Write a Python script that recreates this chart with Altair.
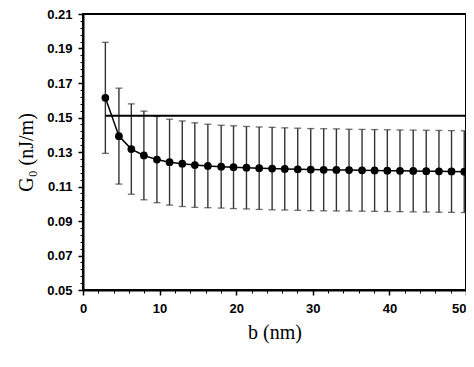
import altair as alt
import pandas as pd

# ---- data ----
b_nm = [2.92, 4.69, 6.31, 7.95, 9.65, 11.30, 12.96, 14.60, 16.30, 18.04,
        19.65, 21.34, 23.00, 24.69, 26.34, 28.03, 29.73, 31.42, 33.08, 34.73,
        36.43, 38.07, 39.73, 41.38, 43.11, 44.81, 46.47, 48.11, 49.77]
g0 = [0.1614, 0.1392, 0.1317, 0.1280, 0.1256, 0.1241, 0.1232, 0.1224, 0.1219, 0.1215,
      0.1212, 0.1209, 0.1206, 0.1204, 0.1202, 0.1200, 0.1198, 0.1197, 0.1196, 0.1195,
      0.1194, 0.1193, 0.1192, 0.1191, 0.1190, 0.1189, 0.1188, 0.1187, 0.1186]
g0_err = [0.0322, 0.0278, 0.0262, 0.0257, 0.0250, 0.0249, 0.0248, 0.0245, 0.0242, 0.0240,
          0.0240, 0.0239, 0.0239, 0.0239, 0.0238, 0.0238, 0.0238, 0.0238, 0.0238, 0.0237,
          0.0237, 0.0237, 0.0237, 0.0237, 0.0237, 0.0237, 0.0237, 0.0237, 0.0237]
ref_value = [0.151]
ref_start = [2.92]
ref_end = [50]

x_major = [0, 10, 20, 30, 40, 50]
x_minor = [0, 2, 4, 6, 8, 10, 12, 14, 16, 18, 20, 22, 24, 26, 28, 30, 32, 34, 36, 38,
           40, 42, 44, 46, 48, 50]
y_major = [0.05, 0.07, 0.09, 0.11, 0.13, 0.15, 0.17, 0.19, 0.21]
y_minor = [round(0.05 + 0.004 * i, 3) for i in range(41)]

df = pd.DataFrame({"b": b_nm, "g": g0, "err": g0_err})
df["lo"] = df["g"] - df["err"]
df["hi"] = df["g"] + df["err"]
ref_df = pd.DataFrame({"x0": ref_start, "x1": ref_end, "v": ref_value})

xs = alt.Scale(domain=[0, 50], nice=False, zero=False)
ys = alt.Scale(domain=[0.05, 0.21], nice=False, zero=False)

lab = dict(labelFont="Liberation Sans", labelFontWeight="bold", labelFontSize=13,
           labelColor="black")
tit = dict(titleFont="Liberation Serif", titleFontSize=20, titleFontWeight="normal",
           titleColor="black")

ax_x_major = alt.Axis(values=x_major, format="d", orient="bottom", tickSize=5, tickWidth=1.5,
                      tickColor="black", domain=True, domainColor="black", domainWidth=2,
                      labelPadding=7, labelFlush=False,
                      labelAlign={"condition": {"test": "datum.value >= 50", "value": "right"},
                                  "value": "center"},
                      grid=False, title="b (nm)",
                      titlePadding=7, **lab, **tit)
ax_y_major = alt.Axis(values=y_major, format=".2f", orient="left", tickSize=5, tickWidth=1.5,
                      tickColor="black", domain=True, domainColor="black", domainWidth=2,
                      labelPadding=6, grid=False, title="G₀ (nJ/m)",
                      titlePadding=10, **lab, **tit)
ax_x_minor = alt.Axis(values=x_minor, orient="bottom", tickSize=3, tickWidth=1,
                      tickColor="black", domain=False, labels=False, grid=False, title=None)
ax_y_minor = alt.Axis(values=y_minor, orient="left", tickSize=3, tickWidth=1,
                      tickColor="black", domain=False, labels=False, grid=False, title=None)

bar_color = "#333333"
bars = alt.Chart(df).mark_rule(color=bar_color, strokeWidth=1.4).encode(
    x=alt.X("b:Q", scale=xs, axis=ax_x_major),
    y=alt.Y("lo:Q", scale=ys, axis=ax_y_major),
    y2="hi:Q",
)
cap_hi = alt.Chart(df).mark_tick(color=bar_color, thickness=1.3, size=7,
                                 orient="horizontal").encode(
    x=alt.X("b:Q", scale=xs, axis=None),
    y=alt.Y("hi:Q", scale=ys, axis=None),
)
cap_lo = alt.Chart(df).mark_tick(color=bar_color, thickness=1.3, size=7,
                                 orient="horizontal").encode(
    x=alt.X("b:Q", scale=xs, axis=None),
    y=alt.Y("lo:Q", scale=ys, axis=None),
)
href = alt.Chart(ref_df).mark_rule(color="black", strokeWidth=2).encode(
    x=alt.X("x0:Q", scale=xs, axis=ax_x_minor),
    x2="x1:Q",
    y=alt.Y("v:Q", scale=ys, axis=ax_y_minor),
)
line = alt.Chart(df).mark_line(color="black", strokeWidth=1.5).encode(
    x=alt.X("b:Q", scale=xs, axis=None),
    y=alt.Y("g:Q", scale=ys, axis=None),
)
pts = alt.Chart(df).mark_circle(color="black", size=60, opacity=1).encode(
    x=alt.X("b:Q", scale=xs, axis=None),
    y=alt.Y("g:Q", scale=ys, axis=None),
)

chart = alt.layer(bars, cap_hi, cap_lo, href, line, pts).resolve_axis(
    x="independent", y="independent"
).properties(
    width=383, height=276,
    padding={"left": 75, "top": 6, "right": 0, "bottom": 60},
    autosize=alt.AutoSizeParams(type="none"),
    background="white",
).configure_view(stroke="black", strokeWidth=2)

chart.save("out.html", embed_options={"renderer": "svg", "actions": False})
